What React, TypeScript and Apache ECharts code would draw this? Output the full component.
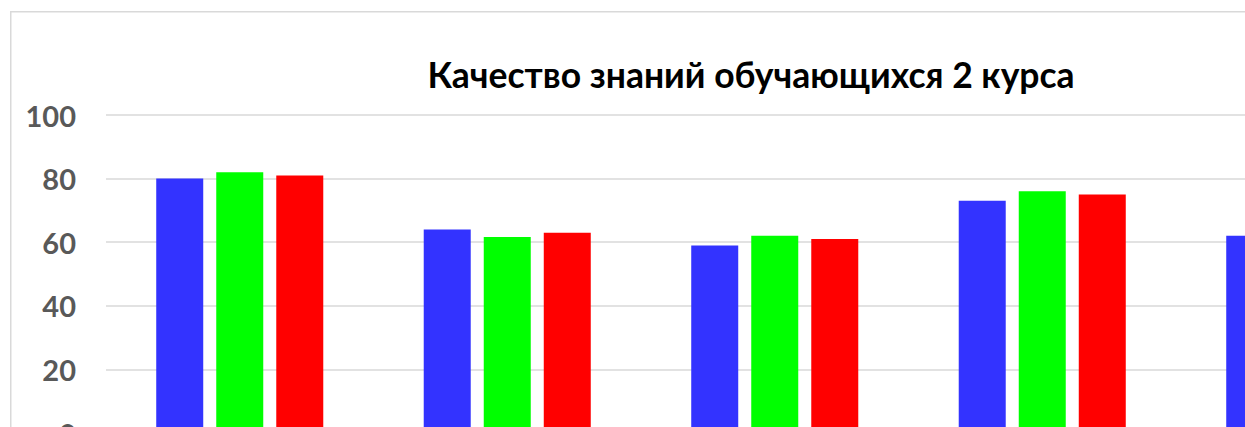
import React, { useEffect, useRef } from "react";
import * as echarts from "echarts";

const titleText = "Качество знаний обучающихся 2 курса";
const categories = ["1", "2", "3", "4", "5"];
const seriesNames = ["Ряд 1", "Ряд 2", "Ряд 3"];
const seriesColors = ["#3333ff", "#00ff00", "#ff0000"];
const blueValues = [80, 64, 59, 73, 62];
const greenValues = [82, 61.6, 62, 76, 60];
const redValues = [81, 63, 61, 75, 60];
const yTicks = { min: 0, max: 100, interval: 20 };

const CHART_W = 1482;
const CHART_H = 500;

export default function App() {
  const ref = useRef<HTMLDivElement>(null);
  useEffect(() => {
    if (!ref.current) return;
    const chart = echarts.init(ref.current, undefined, { renderer: "svg" });
    const values = [blueValues, greenValues, redValues];
    chart.setOption({
      animation: false,
      backgroundColor: "#ffffff",
      graphic: [
        {
          type: "rect",
          shape: { x: 0.75, y: 0.75, width: CHART_W - 1.5, height: CHART_H - 1.5 },
          style: { fill: "none", stroke: "#d9d9d9", lineWidth: 1.5 },
          silent: true,
        },
        {
          type: "text",
          x: 741,
          y: 63,
          style: {
            text: titleText,
            font: "bold 35.5px Lato",
            fill: "#000000",
            textAlign: "center",
            textVerticalAlign: "middle",
          },
        },
      ],
      grid: { left: 96, top: 104, height: 318, width: 1337.5, containLabel: false },
      xAxis: {
        type: "category",
        data: categories,
        axisLine: { show: true, lineStyle: { color: "#d9d9d9", width: 1.5 } },
        axisTick: { show: false },
        axisLabel: { show: false },
      },
      yAxis: {
        type: "value",
        min: yTicks.min,
        max: yTicks.max,
        interval: yTicks.interval,
        axisLine: { show: false },
        axisTick: { show: false },
        axisLabel: {
          margin: 30,
          color: "#595959",
          fontFamily: "Lato",
          fontWeight: "bold",
          fontSize: 29,
        },
        splitLine: { lineStyle: { color: "#d9d9d9", width: 1.5 } },
      },
      series: seriesNames.map((name, i) => ({
        name,
        type: "bar",
        data: values[i],
        barWidth: 47,
        barGap: "27.7%",
        itemStyle: { color: seriesColors[i] },
      })),
    });
    return () => chart.dispose();
  }, []);
  return (
    <div
      style={{
        position: "fixed",
        left: 0,
        top: 0,
        width: 1245,
        height: 427,
        overflow: "hidden",
        background: "#ffffff",
      }}
    >
      <div
        ref={ref}
        style={{ position: "absolute", left: 10, top: 11, width: CHART_W, height: CHART_H }}
      />
    </div>
  );
}
